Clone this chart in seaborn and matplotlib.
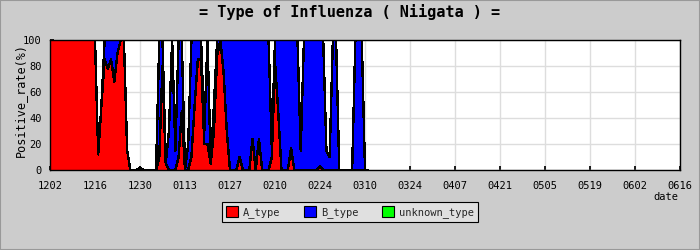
import matplotlib
matplotlib.use("Agg")
import matplotlib.pyplot as plt
from matplotlib.patches import Patch
import seaborn as sns
import pandas as pd
import numpy as np

# ---- data (days since 12/02, positive rate %) ----
days = list(range(100))
A_type = [100, 100, 100, 100, 100, 100, 100, 100, 100, 100,
          100, 100, 100, 100, 100, 12, 50, 85, 78, 85,
          68, 90, 100, 100, 15, 0, 0, 0, 2, 0,
          0, 0, 0, 0, 10, 80, 5, 0, 0, 0,
          10, 45, 0, 0, 10, 50, 85, 85, 20, 20,
          5, 30, 88, 100, 75, 30, 0, 0, 0, 10,
          0, 0, 0, 24, 0, 24, 0, 0, 0, 10,
          83, 45, 0, 0, 0, 17, 0, 0, 0, 0,
          0, 0, 0, 0, 3, 0, 0, 0, 0, 0,
          0, 0, 0, 0, 0, 0, 0, 0, 0, 0]
B_type = [0, 0, 0, 0, 0, 0, 0, 0, 0, 0,
          0, 0, 0, 0, 0, 0, 0, 15, 22, 15,
          32, 10, 0, 0, 0, 0, 0, 0, 0, 0,
          0, 0, 0, 0, 90, 20, 0, 30, 100, 15,
          90, 55, 0, 20, 90, 50, 15, 15, 10, 80,
          0, 20, 12, 0, 25, 70, 100, 100, 100, 90,
          100, 100, 100, 76, 100, 76, 100, 100, 100, 7,
          17, 55, 100, 100, 100, 83, 100, 100, 15, 100,
          100, 100, 100, 100, 97, 100, 15, 10, 100, 100,
          0, 0, 0, 0, 0, 100, 100, 100, 0, 0]
unknown_type = [0] * 100

tick_days = [0, 14, 28, 42, 56, 70, 84, 98, 112, 126, 140, 154, 168, 182, 196]
tick_labels = ["1202", "1216", "1230", "0113", "0127", "0210", "0224", "0310",
               "0324", "0407", "0421", "0505", "0519", "0602", "0616"]
y_ticks = [0, 20, 40, 60, 80, 100]

series_names = ["A_type", "B_type", "unknown_type"]
series_colors = ["#ff0000", "#0000ff", "#00ff00"]

df = pd.DataFrame({"day": days, "A_type": A_type, "B_type": B_type,
                   "unknown_type": unknown_type})
df["cumA"] = df["A_type"]
df["cumAB"] = df["A_type"] + df["B_type"]

sns.set_theme(style="whitegrid")
mono = ["DejaVu Sans Mono", "DejaVu Sans"]
plt.rcParams["font.family"] = mono

bg = "#cccccc"
fig = plt.figure(figsize=(7, 2.5), dpi=100, facecolor=bg)
ax = fig.add_axes([50 / 700, 1 - 170 / 250, 630 / 700, 130 / 250])
ax.set_facecolor("white")

polys = ax.stackplot(df["day"], df["A_type"], df["B_type"], df["unknown_type"],
                     colors=series_colors, linewidth=0, zorder=2)
for p in polys:
    p.set_antialiased(False)
for col in ["cumA", "cumAB"]:
    sns.lineplot(data=df, x="day", y=col, ax=ax, color="black",
                 linewidth=1.0, zorder=3, legend=False, antialiased=False)

ax.set_xlim(0, 196)
ax.set_ylim(0, 100)
ax.set_xticks(tick_days)
ax.set_xticklabels(tick_labels)
ax.set_yticks(y_ticks)
ax.set_yticks([10, 30, 50, 70, 90], minor=True)
ax.grid(True, which="major", color="#dddddd", linewidth=1.0, zorder=0)
ax.set_axisbelow(True)
ax.tick_params(axis="both", which="both", direction="in", length=3,
               color="black", labelsize=7.5, labelcolor="black")
ax.tick_params(axis="x", pad=8)
ax.tick_params(axis="y", pad=6)
ax.tick_params(axis="y", which="minor", left=True, length=3)
ax.tick_params(axis="x", bottom=True)
ax.tick_params(axis="y", left=True)
ax.set_xlabel("")
ax.set_ylabel("")
for s in ax.spines.values():
    s.set_color("black")
    s.set_linewidth(1.0)
    s.set_zorder(5)

fig.text(0.5, 1 - 12 / 250, "= Type of Influenza ( Niigata ) =", ha="center",
         va="center", fontsize=11, fontweight="bold", color="black")
fig.text(20 / 700, 1 - 100 / 250, "Positive_rate(%)", rotation=90, ha="center",
         va="center", fontsize=8.5, color="black")
fig.text(678 / 700, 1 - 197 / 250, "date", ha="right", va="center",
         fontsize=7.5, color="black")

handles = [Patch(facecolor=c, edgecolor="black", linewidth=0.8, label=n)
           for n, c in zip(series_names, series_colors)]
leg = fig.legend(handles=handles, loc="center", bbox_to_anchor=(0.5, 1 - 212 / 250),
                 ncol=3, fontsize=7.5, frameon=True, fancybox=False,
                 edgecolor="black", facecolor="#e0e0e0", framealpha=1,
                 handlelength=1.2, handleheight=1.2, columnspacing=2.2,
                 handletextpad=0.5, borderpad=0.35)
leg.get_frame().set_linewidth(0.8)

fig.patches.append(matplotlib.patches.Rectangle((0, 0), 1, 1, transform=fig.transFigure,
                                                fill=False, edgecolor="#999999",
                                                linewidth=1.5))
fig.savefig("out.png", dpi=100, facecolor=bg)
